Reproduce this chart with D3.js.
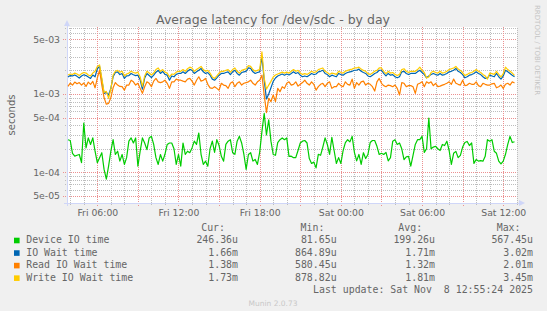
<!DOCTYPE html>
<html lang="en">
<head>
<meta charset="UTF-8">
<title>Average latency for /dev/sdc - by day</title>
<script src="https://d3js.org/d3.v7.min.js"></script>
<style>
  body { margin: 0; background: #f0f0f0; }
  svg { display: block; }
  text { fill: #666; }
</style>
</head>
<body>
<div id="chart"></div>
<script>
// ---- data (values in microseconds, one sample every 10 minutes from Fri 03:50) ----
const startTime = new Date(2025, 10, 7, 3, 50);
const stepMinutes = 10;

const deviceIO = [
  261,255,175,161,165,169,133,425,205,275, 227,275,186,133,154,178,109,82,120,186,
  261,169,186,139,169,126,154,250,275,237, 275,120,186,275,237,195,275,288,227,154,
  126,169,139,170,227,237,237,200,126,169, 120,237,169,186,178,205,250,227,318,170,
  126,139,120,200,250,180,261,220,160,139, 227,250,261,178,170,250,288,237,169,109,
  169,178,139,146,126,180,333,567,300,469, 250,169,165,240,261,275,261,275,160,161,
  154,154,190,237,250,255,237,150,130,135, 114,170,165,210,275,227,169,280,190,130,
  154,130,190,240,261,245,288,180,140,169, 126,178,150,169,240,255,255,215,169,175,
  169,180,140,154,250,261,227,237,200,145, 158,160,120,165,227,261,261,288,180,200,
  493,200,210,215,200,190,227,220,250,190, 126,175,185,154,165,210,240,248,220,237,
  130,146,139,141,139,160,261,250,261,186, 175,139,128,139,170,227,288,240,246
];
const ioWait = [
  1650,1720,1700,1750,1680,1600,1700,1760,1720,1650, 1580,1750,1660,2100,2250,1500,1020,1050,970,1180,
  1660,1880,1920,1770,1830,1580,1700,1720,1830,1760, 1720,1740,1520,1150,1600,1830,1720,1620,1740,1900,
  2000,1830,1950,1780,1740,1500,1700,1660,1780,1830, 1830,1920,1830,1950,2060,2010,1830,1920,2010,2120,
  1920,1830,1880,1740,1550,1500,1610,1740,1830,1830, 1880,1920,1770,1920,2010,1830,1740,1880,1920,1950,
  2160,2120,1920,1830,1880,1920,3020,1500,865,1000, 1200,1450,1600,1700,1750,1800,1740,1800,1750,1830,
  1920,1830,1880,1740,1660,1700,1660,1740,1830,1770, 1800,1920,1950,2010,1830,1770,1660,1740,1700,1660,
  1830,1770,1740,1830,1880,1920,1950,2010,2010,2080, 1950,1880,1830,1700,1660,1740,1830,1880,2010,2010,
  1830,1700,1830,1740,1770,1660,1610,1660,1920,1950, 1830,1770,1830,1830,1830,1920,2010,1880,1770,1610,
  1700,1770,1830,1770,1740,1830,1740,1770,1830,1920, 1950,2010,2120,1950,1880,1770,1610,1660,1740,1770,
  1830,1920,1830,1770,1660,1580,1610,1740,1700,1660, 1830,1660,1550,1700,2010,1920,1830,1740,1660
];
const readWait = [
  1250,1380,1300,1420,1350,1400,1300,1380,1250,1420, 1330,1450,1200,1600,2010,1300,900,740,760,900,
  1200,1400,1300,1250,1240,1120,1300,1300,1500,1430, 1300,1370,1180,1020,1240,1430,1370,1240,1460,1580,
  1430,1400,1430,1500,1370,1180,1430,1430,1550,1500, 1500,1460,1430,1550,1580,1460,1300,1500,1660,1460,
  1500,1580,1330,1200,1180,1240,1180,1120,1370,1300, 1280,1180,1370,1430,1240,1370,1430,1300,1370,1400,
  1430,1500,1370,1300,1430,1500,1740,970,580,880, 800,970,800,1180,1070,1240,1180,1370,1430,1300,
  1330,1430,1260,1330,1400,1500,1370,1300,1430,1330, 1120,1240,1330,1370,1240,1370,1430,1180,1240,1240,
  1370,1280,1240,1430,1330,1300,1550,1180,1400,1300, 1430,1460,1300,1370,1330,1240,1090,1430,1580,1370,
  1280,1240,1300,1280,1240,1300,1180,970,1400,1370, 1240,1280,1280,1240,1020,1330,1370,1430,1240,1430,
  1370,1430,1280,1370,1240,1260,1300,1330,1370,1430, 1330,1550,1370,1330,1300,1500,1280,1300,1370,1330,
  1330,1430,1280,1240,1370,1330,1300,1300,1350,1370, 1200,1240,1300,1180,1330,1370,1300,1430,1380
];
const writeWait = [
  1750,1800,1780,1850,1800,1720,1820,1880,1850,1750, 1700,1850,1950,2250,2350,1600,1050,1080,880,1150,
  1750,1950,2000,1900,1950,1700,1800,1850,1950,1880, 1850,1900,1650,1250,1700,1950,1850,1750,1850,2050,
  2150,1950,2050,1900,1850,1650,1800,1780,1900,1950, 1950,2050,1950,2100,2200,2150,1950,2050,2150,2250,
  2050,1950,2000,1850,1650,1580,1700,1850,1950,1950, 2000,2050,1900,2050,2150,1950,1850,2000,2050,2100,
  2300,2250,2050,1950,2000,2050,3450,1600,1150,1300, 1450,1650,1750,1800,1850,1900,1850,1900,1850,1950,
  2050,1950,2000,1850,1780,1820,1780,1850,1950,1880, 1920,2050,2100,2150,1950,1880,1780,1850,1820,1780,
  1950,1880,1850,1950,2000,2050,2080,2150,2150,2200, 2080,2000,1950,1820,1780,1850,1950,2000,2150,2150,
  1950,1820,1950,1850,1880,1780,1720,1780,2050,2100, 1950,1880,1950,1950,1950,2050,2200,2000,1880,1600,
  1650,1880,1950,1880,1850,1950,1850,1880,1950,2050, 2100,2150,2250,2080,2000,1880,1720,1780,1850,1880,
  1950,2050,1950,1880,1780,1700,1550,1850,1820,1780, 1950,1780,1650,1820,2200,2050,1950,1850,1730
];

const seriesNames = ["Device IO time", "IO Wait time", "Read IO Wait time", "Write IO Wait time"];
const seriesColors = ["#00cc00", "#0066b3", "#ff8000", "#ffcc00"];
const curVals = ["246.36u", "1.66m", "1.38m", "1.73m"];
const minVals = ["81.65u", "864.89u", "580.45u", "878.82u"];
const avgVals = ["199.26u", "1.71m", "1.32m", "1.81m"];
const maxVals = ["567.45u", "3.02m", "2.01m", "3.45m"];
const yTickValues = [5e-3, 1e-3, 5e-4, 1e-4, 5e-5];

// ---- layout ----
const W = 547, H = 311;
const pL = 67, pR = 517, pT = 27, pB = 203;

const svg = d3.select("#chart").append("svg")
  .attr("width", W).attr("height", H)
  .style("font-family", "'DejaVu Sans', sans-serif");

svg.append("rect").attr("width", W).attr("height", H).attr("fill", "#f0f0f0");
svg.append("rect").attr("x", pL).attr("y", pT)
  .attr("width", pR - pL).attr("height", pB - pT).attr("fill", "#fff");

const x = d3.scaleTime()
  .domain([new Date(2025, 10, 7, 3, 45, 36), new Date(2025, 10, 8, 13, 1, 0)])
  .range([pL, pR]);
const y = d3.scaleLog()
  .domain([4.06e-5, 7.17e-3])
  .range([pB, pT]);

// grid values
const minorY = [], majorY = [];
for (let e = -5; e <= -3; e++) {
  for (let m = 1; m <= 9; m++) {
    const v = m * Math.pow(10, e);
    if (v < y.domain()[0] || v > y.domain()[1]) continue;
    (m === 1 || m === 5 ? majorY : minorY).push(v);
  }
}
const hours = x.ticks(d3.timeHour.every(1));
const minorX = hours.filter(d => d.getHours() % 3 !== 0);
const majorX = hours.filter(d => d.getHours() % 3 === 0);

const minorColor = "#bdbdbd", majorColor = "#ec9090";

function styleGrid(g, color) {
  g.select(".domain").remove();
  g.selectAll("line").attr("stroke", color).attr("stroke-dasharray", "1,1").attr("shape-rendering", "crispEdges");
  g.selectAll("text").remove();
}

svg.append("g").attr("transform", `translate(${pL - 2},0)`)
  .call(d3.axisLeft(y).tickValues(minorY).tickSize(-(pR - pL + 2)).tickFormat(""))
  .call(g => styleGrid(g, minorColor));
svg.append("g").attr("transform", `translate(0,${pB + 2})`)
  .call(d3.axisBottom(x).tickValues(minorX).tickSize(-(pB - pT + 2)).tickFormat(""))
  .call(g => styleGrid(g, minorColor));
svg.append("g").attr("transform", `translate(${pL - 4},0)`)
  .call(d3.axisLeft(y).tickValues(majorY).tickSize(-(pR - pL + 4)).tickFormat(""))
  .call(g => styleGrid(g, majorColor));
svg.append("g").attr("transform", `translate(0,${pB + 3})`)
  .call(d3.axisBottom(x).tickValues(majorX).tickSize(-(pB - pT + 3)).tickFormat(""))
  .call(g => styleGrid(g, majorColor));

// axis labels
const fmtExp = v => {
  const [m, e] = v.toExponential(0).split("e");
  const n = Math.abs(+e);
  return m + "e" + (+e < 0 ? "-" : "+") + (n < 10 ? "0" + n : n);
};
const yAxis = svg.append("g").attr("transform", `translate(${pL},0)`)
  .call(d3.axisLeft(y).tickValues(yTickValues).tickSize(0).tickPadding(7).tickFormat(fmtExp));
yAxis.select(".domain").remove();
yAxis.selectAll("text").attr("fill", "#666").style("font-size", "9.3px").style("font-family", "'DejaVu Sans', sans-serif");

const xAxis = svg.append("g").attr("transform", `translate(0,${pB})`)
  .call(d3.axisBottom(x).ticks(d3.timeHour.every(6)).tickSize(0).tickPadding(6).tickFormat(d3.timeFormat("%a %H:%M")));
xAxis.select(".domain").remove();
xAxis.selectAll("text").attr("fill", "#666").style("font-size", "9.3px").style("font-family", "'DejaVu Sans', sans-serif");

// axes lines with arrows
const axisColor = "#cfd6f8";
svg.append("line").attr("x1", pL).attr("x2", pL).attr("y1", pB + 3).attr("y2", pT - 3)
  .attr("stroke", axisColor).attr("shape-rendering", "crispEdges");
svg.append("line").attr("x1", pL - 3).attr("x2", pR + 3).attr("y1", pB).attr("y2", pB)
  .attr("stroke", axisColor).attr("shape-rendering", "crispEdges");
svg.append("path").attr("d", `M${pL - 3},${pT - 1}L${pL},${pT - 7}L${pL + 3},${pT - 1}Z`).attr("fill", axisColor);
svg.append("path").attr("d", `M${pR + 2},${pB - 3}L${pR + 8},${pB}L${pR + 2},${pB + 3}Z`).attr("fill", axisColor);

// lines
svg.append("clipPath").attr("id", "plot").append("rect")
  .attr("x", pL).attr("y", pT).attr("width", pR - pL).attr("height", pB - pT);

const timeAt = i => d3.timeMinute.offset(startTime, i * stepMinutes);
const line = d3.line()
  .x((d, i) => x(timeAt(i)))
  .y(d => y(d * 1e-6));

const allSeries = [deviceIO, ioWait, readWait, writeWait];
const plot = svg.append("g").attr("clip-path", "url(#plot)");
allSeries.forEach((s, k) => {
  plot.append("path").datum(s)
    .attr("d", line)
    .attr("fill", "none")
    .attr("stroke", seriesColors[k])
    .attr("stroke-width", 1.2)
    .attr("stroke-linejoin", "round");
});

// title and side texts
svg.append("text").attr("x", 273).attr("y", 23.5).attr("text-anchor", "middle")
  .style("font-size", "12.5px").text("Average latency for /dev/sdc - by day");
svg.append("text").attr("transform", "translate(15,115) rotate(-90)").attr("text-anchor", "middle")
  .style("font-size", "10px").text("seconds");
svg.append("text").attr("transform", "translate(534.5,5) rotate(90)")
  .style("font-size", "7px").style("fill", "#c4c4c4").text("RRDTOOL / TOBI OETIKER");

// legend
const mono = "'DejaVu Sans Mono', monospace";
const legend = svg.append("g").style("font-family", mono).style("font-size", "9.9px");
const colRight = [238, 336.6, 435, 533];
const headRight = [225, 324.4, 422.1, 520.5];
["Cur:", "Min:", "Avg:", "Max:"].forEach((h, j) => {
  legend.append("text").attr("x", headRight[j]).attr("y", 231.3).attr("text-anchor", "end").text(h);
});
seriesNames.forEach((name, k) => {
  const yy = 243.3 + k * 12.55;
  legend.append("rect").attr("x", 14).attr("y", yy - 5.6).attr("width", 5.6).attr("height", 5.6)
    .attr("fill", seriesColors[k]);
  legend.append("text").attr("x", 26.2).attr("y", yy).text(name);
  [curVals, minVals, avgVals, maxVals].forEach((col, j) => {
    legend.append("text").attr("x", colRight[j]).attr("y", yy).attr("text-anchor", "end").text(col[k]);
  });
});
legend.append("text").attr("x", 533).attr("y", 293).attr("text-anchor", "end")
  .attr("xml:space", "preserve").style("white-space", "pre")
  .text("Last update: Sat Nov  8 12:55:24 2025");
svg.append("text").attr("x", 273).attr("y", 305.5).attr("text-anchor", "middle")
  .style("font-size", "7.5px").style("fill", "#c8c8c8").text("Munin 2.0.73");
</script>
</body>
</html>
